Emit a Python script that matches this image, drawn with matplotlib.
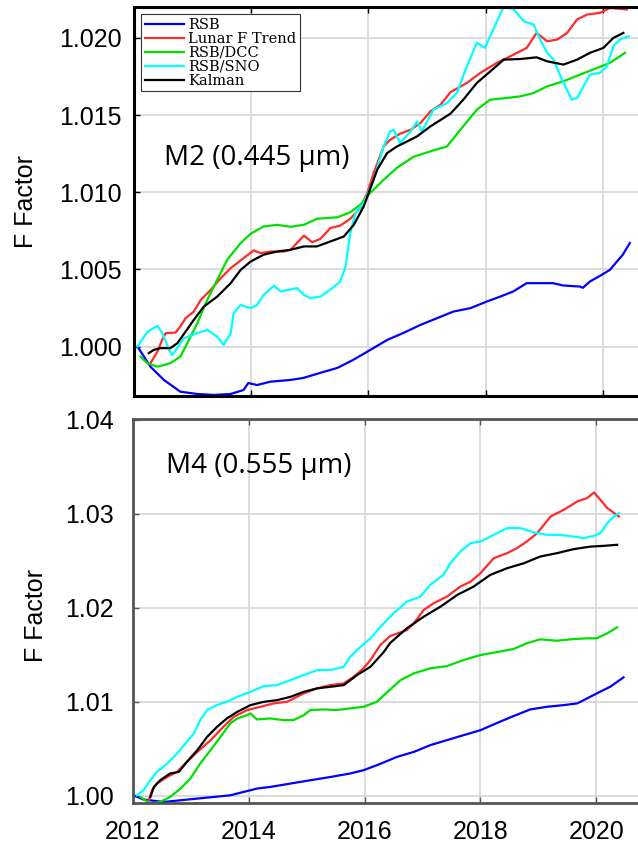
import matplotlib
matplotlib.use('Agg')
import matplotlib.pyplot as plt
from matplotlib.ticker import FormatStrFormatter

# ---- M2 (0.445 um) panel data ----
m2_rsb_year = [2012.06, 2012.28, 2012.51, 2012.79, 2013.08, 2013.36, 2013.65, 2013.87, 2013.95, 2014.10,
               2014.33, 2014.67, 2014.89, 2015.18, 2015.47, 2015.74, 2016.03, 2016.32, 2016.60, 2016.89,
               2017.17, 2017.45, 2017.74, 2018.02, 2018.25, 2018.47, 2018.70, 2018.87, 2019.15, 2019.32,
               2019.61, 2019.66, 2019.78, 2019.95, 2020.12, 2020.24, 2020.34, 2020.46]
m2_rsb_f = [1.00000, 0.99870, 0.99784, 0.99708, 0.99693, 0.99687, 0.99693, 0.99719, 0.99764, 0.99751,
            0.99773, 0.99784, 0.99797, 0.99830, 0.99862, 0.99914, 0.99978, 1.00043, 1.00089, 1.00141,
            1.00184, 1.00227, 1.00249, 1.00292, 1.00324, 1.00357, 1.00411, 1.00411, 1.00411, 1.00396,
            1.00389, 1.00381, 1.00422, 1.00458, 1.00497, 1.00551, 1.00595, 1.00671]

m2_lunar_year = [2012.28, 2012.40, 2012.48, 2012.54, 2012.71, 2012.79, 2012.88, 2013.02, 2013.14, 2013.31,
                 2013.48, 2013.65, 2013.87, 2014.04, 2014.16, 2014.33, 2014.56, 2014.67, 2014.90, 2015.04,
                 2015.18, 2015.35, 2015.52, 2015.69, 2015.86, 2015.98, 2016.09, 2016.26, 2016.37, 2016.54,
                 2016.72, 2016.89, 2017.06, 2017.23, 2017.40, 2017.68, 2017.91, 2018.19, 2018.48, 2018.70,
                 2018.87, 2019.05, 2019.22, 2019.39, 2019.56, 2019.73, 2019.95, 2020.12, 2020.41]
m2_lunar_f = [0.99892, 0.99968, 1.00043, 1.00087, 1.00091, 1.00130, 1.00184, 1.00227, 1.00303, 1.00368,
              1.00444, 1.00508, 1.00573, 1.00623, 1.00606, 1.00616, 1.00616, 1.00627, 1.00719, 1.00676,
              1.00698, 1.00768, 1.00784, 1.00828, 1.00898, 1.00995, 1.01125, 1.01297, 1.01340, 1.01379,
              1.01405, 1.01449, 1.01525, 1.01567, 1.01648, 1.01708, 1.01773, 1.01838, 1.01892, 1.01935,
              1.02032, 1.01978, 1.01989, 1.02032, 1.02119, 1.02151, 1.02162, 1.02194, 1.02184]

m2_dcc_year = [2012.11, 2012.23, 2012.40, 2012.62, 2012.79, 2012.91, 2013.08, 2013.25, 2013.42, 2013.59,
               2013.82, 2013.99, 2014.21, 2014.44, 2014.67, 2014.90, 2015.12, 2015.47, 2015.69, 2015.86,
               2016.03, 2016.26, 2016.49, 2016.77, 2017.06, 2017.34, 2017.57, 2017.85, 2018.08, 2018.36,
               2018.59, 2018.82, 2019.05, 2019.33, 2019.61, 2019.90, 2020.12, 2020.38]
m2_dcc_f = [0.99935, 0.99892, 0.99870, 0.99892, 0.99935, 1.00022, 1.00152, 1.00303, 1.00433, 1.00562,
            1.00671, 1.00731, 1.00778, 1.00789, 1.00776, 1.00789, 1.00828, 1.00838, 1.00870, 1.00919,
            1.00995, 1.01081, 1.01159, 1.01230, 1.01265, 1.01297, 1.01405, 1.01535, 1.01600, 1.01611,
            1.01621, 1.01643, 1.01686, 1.01719, 1.01762, 1.01805, 1.01838, 1.01903]

m2_sno_year = [2012.06, 2012.23, 2012.40, 2012.48, 2012.60, 2012.65, 2012.74, 2012.85, 2013.08, 2013.25,
               2013.42, 2013.53, 2013.65, 2013.70, 2013.82, 2013.99, 2014.10, 2014.21, 2014.39, 2014.50,
               2014.78, 2014.90, 2015.01, 2015.18, 2015.35, 2015.52, 2015.61, 2015.69, 2015.78, 2015.92,
               2016.09, 2016.26, 2016.37, 2016.43, 2016.54, 2016.72, 2016.83, 2016.91, 2017.11, 2017.34,
               2017.51, 2017.68, 2017.85, 2017.99, 2018.13, 2018.31, 2018.48, 2018.65, 2018.82, 2018.93,
               2019.05, 2019.16, 2019.30, 2019.47, 2019.56, 2019.67, 2019.78, 2019.95, 2020.07, 2020.18,
               2020.29, 2020.44]
m2_sno_f = [1.00000, 1.00097, 1.00134, 1.00089, 0.99979, 0.99946, 0.99990, 1.00054, 1.00087, 1.00108,
            1.00065, 1.00011, 1.00087, 1.00217, 1.00270, 1.00249, 1.00270, 1.00335, 1.00394, 1.00357,
            1.00379, 1.00335, 1.00314, 1.00324, 1.00368, 1.00422, 1.00519, 1.00735, 1.00865, 1.00930,
            1.01081, 1.01297, 1.01394, 1.01405, 1.01319, 1.01394, 1.01459, 1.01394, 1.01535, 1.01578,
            1.01643, 1.01816, 1.01968, 1.01935, 1.02054, 1.02205, 1.02184, 1.02108, 1.02086, 1.01989,
            1.01903, 1.01859, 1.01730, 1.01600, 1.01611, 1.01686, 1.01762, 1.01773, 1.01816, 1.01946,
            1.01989, 1.02010]

m2_kalman_year = [2012.25, 2012.34, 2012.45, 2012.62, 2012.74, 2012.88, 2013.02, 2013.19, 2013.42, 2013.65,
                  2013.82, 2013.99, 2014.21, 2014.44, 2014.67, 2014.90, 2015.12, 2015.35, 2015.58, 2015.75,
                  2015.92, 2016.15, 2016.32, 2016.49, 2016.66, 2016.83, 2017.06, 2017.40, 2017.62, 2017.85,
                  2018.08, 2018.31, 2018.59, 2018.87, 2019.05, 2019.33, 2019.56, 2019.78, 2020.01, 2020.18,
                  2020.35]
m2_kalman_f = [0.99957, 0.99979, 0.99990, 0.99990, 1.00022, 1.00097, 1.00173, 1.00259, 1.00324, 1.00411,
               1.00497, 1.00551, 1.00595, 1.00616, 1.00627, 1.00649, 1.00649, 1.00681, 1.00713, 1.00789,
               1.00908, 1.01146, 1.01254, 1.01297, 1.01329, 1.01362, 1.01427, 1.01509, 1.01600, 1.01708,
               1.01783, 1.01859, 1.01863, 1.01874, 1.01848, 1.01827, 1.01859, 1.01903, 1.01935, 1.02000,
               1.02032]

# ---- M4 (0.555 um) panel data ----
m4_rsb_year = [2012.01, 2012.18, 2012.53, 2012.82, 2013.11, 2013.39, 2013.68, 2013.91, 2014.03, 2014.14,
               2014.37, 2014.72, 2015.06, 2015.41, 2015.75, 2015.98, 2016.21, 2016.56, 2016.85, 2017.13,
               2017.42, 2017.71, 2018.00, 2018.29, 2018.57, 2018.86, 2019.15, 2019.44, 2019.67, 2019.84,
               2020.01, 2020.24, 2020.47]
m4_rsb_f = [1.00005, 0.99960, 0.99934, 0.99952, 0.99970, 0.99987, 1.00005, 1.00041, 1.00059, 1.00077,
            1.00094, 1.00130, 1.00165, 1.00200, 1.00237, 1.00272, 1.00325, 1.00414, 1.00467, 1.00538,
            1.00592, 1.00645, 1.00698, 1.00776, 1.00848, 1.00919, 1.00947, 1.00965, 1.00983, 1.01036,
            1.01090, 1.01160, 1.01260]

m4_lunar_year = [2012.27, 2012.33, 2012.41, 2012.59, 2012.76, 2012.93, 2013.11, 2013.34, 2013.56, 2013.74,
                 2013.97, 2014.20, 2014.43, 2014.66, 2014.95, 2015.18, 2015.41, 2015.64, 2015.81, 2015.98,
                 2016.10, 2016.27, 2016.44, 2016.73, 2016.85, 2017.02, 2017.19, 2017.42, 2017.65, 2017.83,
                 2018.00, 2018.23, 2018.46, 2018.63, 2018.80, 2018.98, 2019.21, 2019.44, 2019.67, 2019.84,
                 2019.96, 2020.07, 2020.19, 2020.39]
m4_lunar_f = [0.99952, 1.00059, 1.00130, 1.00200, 1.00254, 1.00360, 1.00467, 1.00592, 1.00733, 1.00840,
              1.00912, 1.00947, 1.00983, 1.01000, 1.01090, 1.01143, 1.01178, 1.01196, 1.01267, 1.01356,
              1.01445, 1.01604, 1.01700, 1.01764, 1.01836, 1.01978, 1.02049, 1.02119, 1.02226, 1.02279,
              1.02369, 1.02529, 1.02582, 1.02635, 1.02706, 1.02795, 1.02972, 1.03044, 1.03132, 1.03168,
              1.03228, 1.03150, 1.03062, 1.02972]

m4_dcc_year = [2012.13, 2012.30, 2012.47, 2012.64, 2012.82, 2012.99, 2013.16, 2013.34, 2013.51, 2013.68,
               2013.80, 2013.97, 2014.03, 2014.14, 2014.37, 2014.60, 2014.77, 2014.95, 2015.06, 2015.29,
               2015.52, 2015.75, 2015.98, 2016.21, 2016.39, 2016.62, 2016.85, 2017.13, 2017.42, 2017.71,
               2018.00, 2018.29, 2018.57, 2018.80, 2019.03, 2019.32, 2019.55, 2019.84, 2020.01, 2020.19,
               2020.36]
m4_dcc_f = [0.99987, 0.99917, 0.99934, 0.99987, 1.00077, 1.00183, 1.00343, 1.00485, 1.00627, 1.00770,
            1.00823, 1.00858, 1.00876, 1.00812, 1.00823, 1.00805, 1.00805, 1.00858, 1.00912, 1.00919,
            1.00912, 1.00930, 1.00947, 1.01000, 1.01103, 1.01231, 1.01303, 1.01356, 1.01380, 1.01445,
            1.01498, 1.01530, 1.01562, 1.01623, 1.01665, 1.01650, 1.01665, 1.01676, 1.01676, 1.01729,
            1.01793]

m4_sno_year = [2012.07, 2012.18, 2012.30, 2012.41, 2012.59, 2012.76, 2012.93, 2013.05, 2013.16, 2013.28,
               2013.45, 2013.62, 2013.80, 2014.03, 2014.26, 2014.49, 2014.72, 2014.95, 2015.18, 2015.41,
               2015.64, 2015.75, 2015.93, 2016.10, 2016.27, 2016.50, 2016.73, 2016.96, 2017.13, 2017.36,
               2017.48, 2017.65, 2017.83, 2018.00, 2018.23, 2018.46, 2018.69, 2018.92, 2019.15, 2019.38,
               2019.61, 2019.78, 2019.95, 2020.07, 2020.19, 2020.30, 2020.39]
m4_sno_f = [1.00005, 1.00059, 1.00165, 1.00254, 1.00343, 1.00450, 1.00574, 1.00663, 1.00805, 1.00912,
            1.00965, 1.01000, 1.01053, 1.01107, 1.01167, 1.01178, 1.01231, 1.01285, 1.01338, 1.01338,
            1.01373, 1.01480, 1.01586, 1.01676, 1.01796, 1.01942, 1.02066, 1.02119, 1.02244, 1.02351,
            1.02475, 1.02599, 1.02689, 1.02706, 1.02777, 1.02849, 1.02849, 1.02802, 1.02777, 1.02777,
            1.02759, 1.02742, 1.02766, 1.02795, 1.02902, 1.02972, 1.03009]

m4_kalman_year = [2012.30, 2012.36, 2012.47, 2012.64, 2012.79, 2012.93, 2013.11, 2013.28, 2013.45, 2013.62,
                  2013.80, 2014.03, 2014.26, 2014.49, 2014.72, 2014.95, 2015.18, 2015.41, 2015.64, 2015.87,
                  2016.10, 2016.33, 2016.44, 2016.73, 2017.02, 2017.31, 2017.60, 2017.88, 2018.17, 2018.46,
                  2018.75, 2019.03, 2019.32, 2019.61, 2019.90, 2020.13, 2020.36]
m4_kalman_f = [0.99987, 1.00094, 1.00165, 1.00237, 1.00254, 1.00360, 1.00485, 1.00627, 1.00733, 1.00823,
               1.00893, 1.00965, 1.01000, 1.01018, 1.01053, 1.01107, 1.01143, 1.01160, 1.01178, 1.01285,
               1.01373, 1.01530, 1.01626, 1.01783, 1.01906, 1.02013, 1.02138, 1.02226, 1.02351, 1.02422,
               1.02475, 1.02546, 1.02582, 1.02625, 1.02652, 1.02660, 1.02671]

series_names = ['RSB', 'Lunar F Trend', 'RSB/DCC', 'RSB/SNO', 'Kalman']
series_colors = ['#0000ff', '#ff2a2a', '#00e000', '#00ffff', '#000000']
year_ticks = [2012, 2014, 2016, 2018, 2020]

m2_data = [(m2_rsb_year, m2_rsb_f), (m2_lunar_year, m2_lunar_f), (m2_dcc_year, m2_dcc_f),
           (m2_sno_year, m2_sno_f), (m2_kalman_year, m2_kalman_f)]
m4_data = [(m4_rsb_year, m4_rsb_f), (m4_lunar_year, m4_lunar_f), (m4_dcc_year, m4_dcc_f),
           (m4_sno_year, m4_sno_f), (m4_kalman_year, m4_kalman_f)]

fig = plt.figure(figsize=(6.38, 8.47), dpi=100)
W, H = 638, 847

# axes placed in pixel terms of the reference
ax1 = fig.add_axes([134 / W, 1 - 396 / H, (W - 134) / W, (396 - 7) / H])
ax2 = fig.add_axes([133 / W, 1 - 803 / H, (W - 133) / W, (803 - 419) / H])


def style_axes(ax, spine_color, spine_width):
    ax.grid(True, color='#d6d6d6', linewidth=1.2)
    ax.set_axisbelow(True)
    ax.tick_params(direction='in', length=4, width=1, top=True, right=False,
                   labelsize=18, pad=9, colors=spine_color, labelcolor='black')
    for side in ['left', 'top', 'bottom']:
        ax.spines[side].set_color(spine_color)
        ax.spines[side].set_linewidth(spine_width)
    ax.spines['right'].set_visible(False)
    for lab in ax.get_yticklabels() + ax.get_xticklabels():
        lab.set_family('Liberation Sans')


# top panel
for (yr, f), name, col in zip(m2_data, series_names, series_colors):
    ax1.plot(yr, f, color=col, linewidth=1.6, label=name)
ax1.set_xlim(2012.0, 2020.6)
ax1.set_ylim(0.9968, 1.0220)
ax1.set_xticks(year_ticks)
ax1.set_xticklabels([])
ax1.set_yticks([1.000, 1.005, 1.010, 1.015, 1.020])
ax1.yaxis.set_major_formatter(FormatStrFormatter('%.3f'))
style_axes(ax1, 'black', 2.2)
ax1.text(0.06, 0.594, 'M2 (0.445 µm)', transform=ax1.transAxes, fontsize=20,
         family='Open Sans', va='baseline')
leg = ax1.legend(loc='upper left', bbox_to_anchor=(0.014, 0.982), borderaxespad=0,
                 prop={'family': 'DejaVu Serif', 'size': 10.5}, labelspacing=0.0,
                 handlelength=2.7, handletextpad=0.3, borderpad=0.25, fancybox=False,
                 framealpha=1)
leg.get_frame().set_edgecolor('#333333')
leg.get_frame().set_linewidth(0.8)

# bottom panel
for (yr, f), name, col in zip(m4_data, series_names, series_colors):
    ax2.plot(yr, f, color=col, linewidth=1.6, label=name)
ax2.set_xlim(2012.0, 2020.72)
ax2.set_ylim(0.99923, 1.0401)
ax2.set_xticks(year_ticks)
ax2.set_yticks([1.00, 1.01, 1.02, 1.03, 1.04])
ax2.yaxis.set_major_formatter(FormatStrFormatter('%.2f'))
style_axes(ax2, '#555555', 2.0)
ax2.tick_params(axis='y', pad=14)
ax2.tick_params(axis='x', pad=12)
ax2.text(0.066, 0.859, 'M4 (0.555 µm)', transform=ax2.transAxes, fontsize=20,
         family='Open Sans', va='baseline')

# y labels
fig.text(26 / W, 1 - 202 / H, 'F Factor', rotation=90, fontsize=18, family='Liberation Sans',
         ha='center', va='center')
fig.text(36 / W, 1 - 615 / H, 'F Factor', rotation=90, fontsize=18, family='Liberation Sans',
         ha='center', va='center')

fig.savefig('out.png', dpi=100)
